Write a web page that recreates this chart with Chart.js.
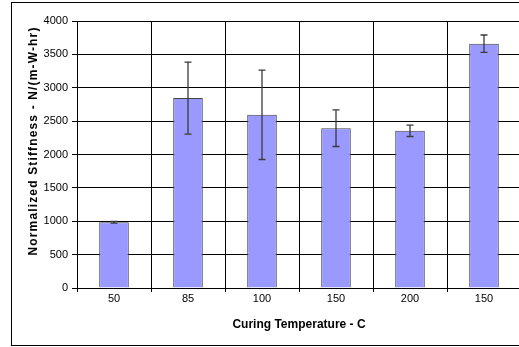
<!DOCTYPE html>
<html>
<head>
<meta charset="utf-8">
<script src="https://cdn.jsdelivr.net/npm/chart.js@4"></script>
<style>
  html, body { margin: 0; padding: 0; background: #fff; overflow: hidden; }
  #wrap { position: relative; width: 519px; height: 347px; overflow: hidden; }
  #frame { position: absolute; left: 11px; top: 2px; width: 600px; height: 344px;
           border: 1px solid #000; box-sizing: border-box; pointer-events: none; }
  #holder { position: absolute; left: 0; top: 0; width: 540px; height: 347px; }
</style>
</head>
<body>
<div id="wrap">
  <div id="holder"><canvas id="myChart" width="540" height="347"></canvas></div>
  <div id="frame"></div>
</div>
<script>
// Preparing data
const temperatures = ['50', '85', '100', '150', '200', '150'];
const stiffness = [985, 2845, 2595, 2395, 2355, 3660];
const stiffnessErr = [12, 540, 670, 275, 85, 130];
const yTicks = [0, 500, 1000, 1500, 2000, 2500, 3000, 3500, 4000];
const yTitle = 'Normalized Stiffness - N/(m-W-hr)';

// error bars drawn from the scales
const errorBars = {
  id: 'errorBars',
  afterDatasetsDraw(chart) {
    const ctx = chart.ctx;
    const meta = chart.getDatasetMeta(0);
    const y = chart.scales.y;
    ctx.save();
    ctx.strokeStyle = '#3a3a3a';
    ctx.lineWidth = 1.3;
    meta.data.forEach(function (bar, i) {
      const x = bar.x;
      const top = y.getPixelForValue(stiffness[i] + stiffnessErr[i]);
      const bot = y.getPixelForValue(stiffness[i] - stiffnessErr[i]);
      ctx.beginPath();
      ctx.moveTo(x, top); ctx.lineTo(x, bot);
      ctx.moveTo(x - 3.5, top); ctx.lineTo(x + 3.5, top);
      ctx.moveTo(x - 3.5, bot); ctx.lineTo(x + 3.5, bot);
      ctx.stroke();
    });
    ctx.restore();
  }
};

// y title, spaced out like the original
const yTitlePlugin = {
  id: 'yTitle',
  afterDraw(chart) {
    const ctx = chart.ctx;
    ctx.save();
    ctx.translate(34, 141);
    ctx.rotate(-Math.PI / 2);
    ctx.font = "bold 12px 'Liberation Sans', Arial, sans-serif";
    ctx.letterSpacing = '1.15px';
    ctx.fillStyle = '#000';
    ctx.textAlign = 'center';
    ctx.textBaseline = 'middle';
    ctx.fillText(yTitle, 0, 0);
    ctx.restore();
  }
};

Chart.defaults.font.family = "'Liberation Sans', Arial, sans-serif";
Chart.defaults.color = '#000';

const ctx = document.getElementById('myChart').getContext('2d');
new Chart(ctx, {
  type: 'bar',
  data: {
    labels: temperatures,
    datasets: [{
      data: stiffness,
      backgroundColor: '#9999ff',
      borderColor: '#444',
      borderWidth: 1,
      barPercentage: 0.4,
      categoryPercentage: 1.0
    }]
  },
  plugins: [errorBars, yTitlePlugin],
  options: {
    responsive: false,
    animation: false,
    layout: { padding: { left: 27, right: 19, top: 21, bottom: 15 } },
    plugins: { legend: { display: false }, tooltip: { enabled: false } },
    scales: {
      x: {
        grid: { color: '#000', lineWidth: 1, tickLength: 4, offset: true },
        border: { color: '#000', width: 1 },
        ticks: { font: { size: 11, lineHeight: 1 }, padding: 1 },
        title: { display: true, text: 'Curing Temperature - C', padding: 0,
                 font: { size: 12, weight: 'bold' } },
        afterFit(scale) { scale.height = 44; }
      },
      y: {
        min: 0, max: 4000,
        afterBuildTicks(scale) { scale.ticks = yTicks.map(v => ({ value: v })); },
        grid: { color: '#000', lineWidth: 1, tickLength: 5 },
        border: { color: '#000', width: 1 },
        ticks: { font: { size: 11 }, padding: 4, callback: v => String(v) },
        afterFit(scale) { scale.width = 50; }
      }
    }
  }
});
</script>
</body>
</html>
